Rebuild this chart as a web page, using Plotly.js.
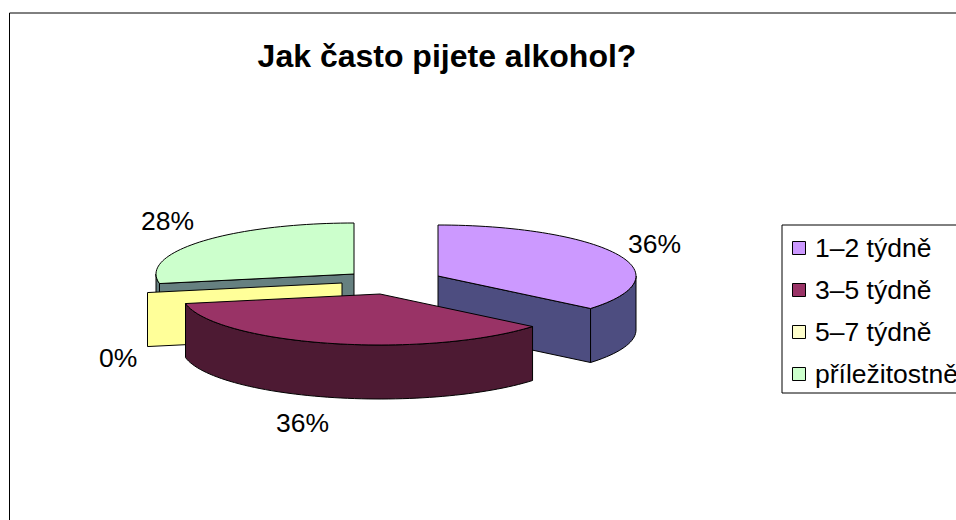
<!DOCTYPE html>
<html>
<head>
<meta charset="utf-8">
<script src="https://cdn.plot.ly/plotly-3.0.1.min.js"></script>
<style>html,body{margin:0;padding:0;background:#fff;overflow:hidden}#chart{width:956px;height:520px}</style>
</head>
<body>
<div id="chart"></div>
<script>
// Survey answers, in percent
const categories = ['1–2 týdně', '3–5 týdně', '5–7 týdně', 'příležitostně'];
const shares = [36, 36, 0, 28];
const valueLabels = ['36%', '36%', '0%', '28%'];

// Face colours of each slice
const topColors = ['#cc99ff', '#993366', '#ffff99', '#ccffcc'];
const wallColors = ['#4d4d80', '#4d1a33', '#807f4d', '#668080'];
const swatchColors = ['#cc99ff', '#993366', '#ffffcc', '#ccffcc'];

// Exploded pie geometry: hub of every slice, ellipse radii and extrusion depth
const hubX = [438, 380, 342, 354];
const hubY = [276, 294, 283, 274];
const radiusX = 198, radiusY = 51, depth = 54;

// Label anchors, outer frame and legend layout
const labelX = [654, 302, 118, 167];
const labelY = [244, 423, 358, 221];
const legendSwatchX = 799, legendTextX = 813;
const legendRowY = [248, 290, 332, 374];

// Clockwise angle from twelve o'clock to the point on a slice's rim
const rim = (i, deg) => {
  const a = deg * Math.PI / 180;
  return [hubX[i] + radiusX * Math.sin(a), hubY[i] - radiusY * Math.cos(a)];
};
const arc = (i, from, to) => {
  const n = Math.max(1, Math.ceil(Math.abs(to - from) / 2));
  return Array.from({length: n + 1}, (_, k) => rim(i, from + (to - from) * k / n));
};
const polygon = (pts, color) => ({
  type: 'scatter', mode: 'lines', fill: 'toself', fillcolor: color,
  x: pts.map(p => p[0]).concat(pts[0][0]),
  y: pts.map(p => p[1]).concat(pts[0][1]),
  line: {color: '#000', width: 1, shape: 'linear', simplify: false},
  hoverinfo: 'skip', showlegend: false
});

// Cumulative start and end angle of every slice
let running = 0;
const spans = shares.map(v => {
  const s = [running, running + v * 3.6];
  running = s[1];
  return s;
});

// Walls first, then the top face, one slice at a time
function sliceTraces(i) {
  const [a0, a1] = spans[i];
  const out = [];
  const hub = [hubX[i], hubY[i]];
  const drop = p => [p[0], p[1] + depth];
  // Radial cut facing the viewer
  const startPt = rim(i, a0), endPt = rim(i, a1);
  if (a0 > 180 && a1 <= 360) {
    out.push(polygon([startPt, hub, drop(hub), drop(startPt)], wallColors[i]));
  }
  if (a1 > 0 && a1 <= 180) {
    out.push(polygon([hub, endPt, drop(endPt), drop(hub)], wallColors[i]));
  }
  // Outer rim where it faces the viewer
  const lo = Math.max(a0, 90), hi = Math.min(a1, 270);
  if (hi > lo) {
    const edge = arc(i, lo, hi);
    out.push(polygon(edge.concat(edge.slice().reverse().map(drop)), wallColors[i]));
  }
  if (a1 > a0) {
    out.push(polygon([hub].concat(arc(i, a0, a1)), topColors[i]));
  }
  return out;
}

// Back slices are painted before the ones in front of them
const paintOrder = [3, 2, 0, 1];
const traces = [];
paintOrder.forEach(i => {
  if (shares[i] === 0) {
    // An empty slice still shows its upright cut face
    const a = spans[i][0];
    const p = rim(i, a), hub = [hubX[i], hubY[i]];
    traces.push(polygon([p, hub, [hub[0], hub[1] + depth], [p[0], p[1] + depth]], topColors[i]));
  } else {
    traces.push(...sliceTraces(i));
  }
});

// Legend swatches
traces.push({
  type: 'scatter', mode: 'markers',
  x: legendRowY.map(() => legendSwatchX), y: legendRowY,
  marker: {symbol: 'square', size: 13, color: swatchColors, line: {color: '#000', width: 1}},
  hoverinfo: 'skip', showlegend: false
});

const textFont = {family: '"Liberation Sans", Arial, sans-serif', size: 26.5, color: '#000'};
const annotations = shares.map((_, i) => ({
  x: labelX[i], y: labelY[i], xref: 'x', yref: 'y', text: valueLabels[i],
  showarrow: false, font: textFont, xanchor: 'center', yanchor: 'middle'
})).concat(categories.map((c, i) => ({
  x: legendTextX, y: legendRowY[i], xref: 'x', yref: 'y', text: c,
  showarrow: false, font: textFont, xanchor: 'left', yanchor: 'middle', align: 'left'
})));

const layout = {
  width: 956, height: 520,
  margin: {l: 0, r: 0, t: 0, b: 0},
  paper_bgcolor: '#fff', plot_bgcolor: '#fff',
  showlegend: false,
  title: {
    text: '<b>Jak často pijete alkohol?</b>',
    x: 447 / 956, xanchor: 'center', xref: 'paper',
    y: 1 - 56 / 520, yanchor: 'middle', yref: 'container',
    font: {family: '"Liberation Sans", Arial, sans-serif', size: 32, color: '#000'}
  },
  xaxis: {range: [0, 956], visible: false, fixedrange: true},
  yaxis: {range: [520, 0], visible: false, fixedrange: true},
  annotations,
  shapes: [
    // Chart frame, open towards the right and bottom
    {type: 'rect', xref: 'x', yref: 'y', x0: 9.5, y0: 13, x1: 1000, y1: 600,
     line: {color: '#000', width: 1}, fillcolor: 'rgba(0,0,0,0)', layer: 'below'},
    // Legend box
    {type: 'rect', xref: 'x', yref: 'y', x0: 782, y0: 225, x1: 1000, y1: 393,
     line: {color: '#000', width: 1}, fillcolor: 'rgba(0,0,0,0)', layer: 'below'}
  ]
};

Plotly.newPlot('chart', traces, layout, {displayModeBar: false, staticPlot: true});
</script>
</body>
</html>
